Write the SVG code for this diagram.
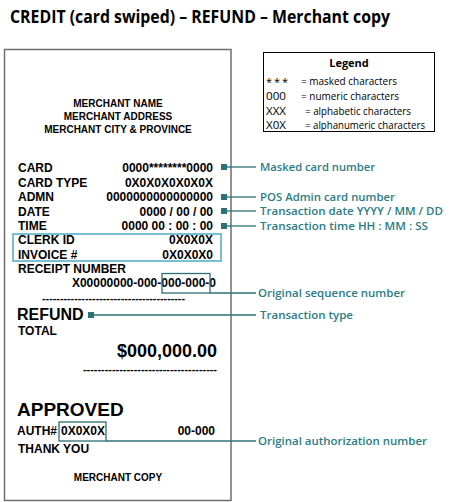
<svg xmlns="http://www.w3.org/2000/svg" width="450" height="502" viewBox="0 0 450 502">
<style>
.r{font-family:"Liberation Sans",Arial,sans-serif;font-weight:bold;fill:#000}
.s12{font-size:12px}
.end{text-anchor:end}
.mid{text-anchor:middle}
.lbl{font-family:"Open Sans","Noto Sans",sans-serif;font-size:11px;font-weight:600;fill:#2b7d83}
.lg{font-family:"Open Sans","Noto Sans",sans-serif;font-size:11px;fill:#000}
.ln{stroke:#2d7278;stroke-width:1.3;fill:none}
.mk{fill:#2d7278}
.bx{fill:none;stroke:#2d6e73;stroke-width:1.3}
</style>
<rect width="450" height="502" fill="#fff"/>
<g id="title">
<text x="10" y="23" font-family="'Open Sans','Noto Sans',sans-serif" font-weight="bold" font-size="17" textLength="380" lengthAdjust="spacingAndGlyphs">CREDIT (card swiped) – REFUND – Merchant copy</text>
</g>
<g id="legend">
<rect x="263.5" y="52.5" width="171" height="79" fill="#fff" stroke="#000" stroke-width="1"/>
<text class="lg mid" x="349" y="67" font-weight="bold">Legend</text>
<text class="lg" x="266" y="86" textLength="22" lengthAdjust="spacing">* * *</text><text class="lg" x="301" y="85" textLength="96" lengthAdjust="spacingAndGlyphs">= masked characters</text>
<text class="lg" x="266" y="100" textLength="20" lengthAdjust="spacingAndGlyphs">000</text><text class="lg" x="301" y="100" textLength="98" lengthAdjust="spacingAndGlyphs">= numeric characters</text>
<text class="lg" x="266" y="115" textLength="20" lengthAdjust="spacingAndGlyphs">XXX</text><text class="lg" x="305" y="115" textLength="106" lengthAdjust="spacingAndGlyphs">= alphabetic characters</text>
<text class="lg" x="266" y="129" textLength="20" lengthAdjust="spacingAndGlyphs">X0X</text><text class="lg" x="305" y="129" textLength="120" lengthAdjust="spacingAndGlyphs">= alphanumeric characters</text>
</g>
<g id="receipt">
<rect x="4.5" y="49.5" width="226.5" height="451" fill="#fff" stroke="#6e6e6e" stroke-width="1.5"/>
<text class="r mid" font-size="10" x="118" y="107">MERCHANT NAME</text>
<text class="r mid" font-size="10" x="118" y="120">MERCHANT ADDRESS</text>
<text class="r mid" font-size="10" x="118" y="133">MERCHANT CITY &amp; PROVINCE</text>
<text class="r s12" x="18" y="172">CARD</text><text class="r s12 end" x="213" y="172">0000********0000</text>
<text class="r s12" x="18" y="187">CARD TYPE</text><text class="r s12 end" x="213" y="187">0X0X0X0X0X0X</text>
<text class="r s12" x="18" y="201">ADMN</text><text class="r s12 end" x="213" y="201">0000000000000000</text>
<text class="r s12" x="18" y="216">DATE</text><text class="r s12 end" x="213" y="216">0000 / 00 / 00</text>
<text class="r s12" x="18" y="230">TIME</text><text class="r s12 end" x="213" y="230">0000 00 : 00 : 00</text>
<text class="r s12" x="18" y="244">CLERK ID</text><text class="r s12 end" x="213" y="244">0X0X0X</text>
<text class="r s12" x="18" y="259">INVOICE #</text><text class="r s12 end" x="213" y="259">0X0X0X0</text>
<text class="r s12" x="18" y="273">RECEIPT NUMBER</text>
<text class="r s12 end" x="216" y="287">X00000000-000-000-000-0</text>
<text class="r" font-size="10" x="42" y="302" textLength="143" lengthAdjust="spacingAndGlyphs">----------------------------------------</text>
<text class="r" font-size="16" x="17" y="320">REFUND</text>
<text class="r s12" x="18" y="335">TOTAL</text>
<text class="r end" font-size="18" x="217" y="357">$000,000.00</text>
<text class="r" font-size="10" x="83" y="373" textLength="134" lengthAdjust="spacingAndGlyphs">-------------------------------------</text>
<text class="r" font-size="19" x="17" y="416">APPROVED</text>
<text class="r s12" x="17" y="435">AUTH#</text><text class="r s12" x="61" y="435">0X0X0X</text>
<text class="r s12 end" x="215" y="435">00-000</text>
<text class="r s12" x="18" y="453">THANK YOU</text>
<text class="r mid" font-size="10" x="118" y="481">MERCHANT COPY</text>
<rect x="13" y="234" width="208" height="27" fill="none" stroke="#4bacc6" stroke-width="1.5"/>
<rect class="bx" x="162" y="273.5" width="48" height="19.5"/>
<rect class="bx" x="59" y="422" width="47" height="19"/>
</g>
<g id="connectors">
<rect class="mk" x="221" y="164" width="6" height="6"/><path class="ln" d="M227 167H256"/>
<rect class="mk" x="221" y="194" width="6" height="6"/><path class="ln" d="M227 197H256"/>
<rect class="mk" x="221" y="208" width="6" height="6"/><path class="ln" d="M227 211H256"/>
<rect class="mk" x="221" y="223" width="6" height="6"/><path class="ln" d="M227 226H256"/>
<path class="ln" d="M210 293H256"/>
<rect class="mk" x="88" y="312" width="6" height="6"/><path class="ln" d="M94 315H256"/>
<path class="ln" d="M106 441H256"/>
</g>
<g id="labels">
<text class="lbl" x="260" y="171" textLength="115" lengthAdjust="spacingAndGlyphs">Masked card number</text>
<text class="lbl" x="260" y="201" textLength="135" lengthAdjust="spacingAndGlyphs">POS Admin card number</text>
<text class="lbl" x="260" y="215" textLength="183" lengthAdjust="spacingAndGlyphs">Transaction date YYYY / MM / DD</text>
<text class="lbl" x="260" y="230" textLength="168" lengthAdjust="spacingAndGlyphs">Transaction time HH : MM : SS</text>
<text class="lbl" x="258" y="297" textLength="147" lengthAdjust="spacingAndGlyphs">Original sequence number</text>
<text class="lbl" x="260" y="319" textLength="93" lengthAdjust="spacingAndGlyphs">Transaction type</text>
<text class="lbl" x="258" y="445" textLength="169" lengthAdjust="spacingAndGlyphs">Original authorization number</text>
</g>
</svg>
